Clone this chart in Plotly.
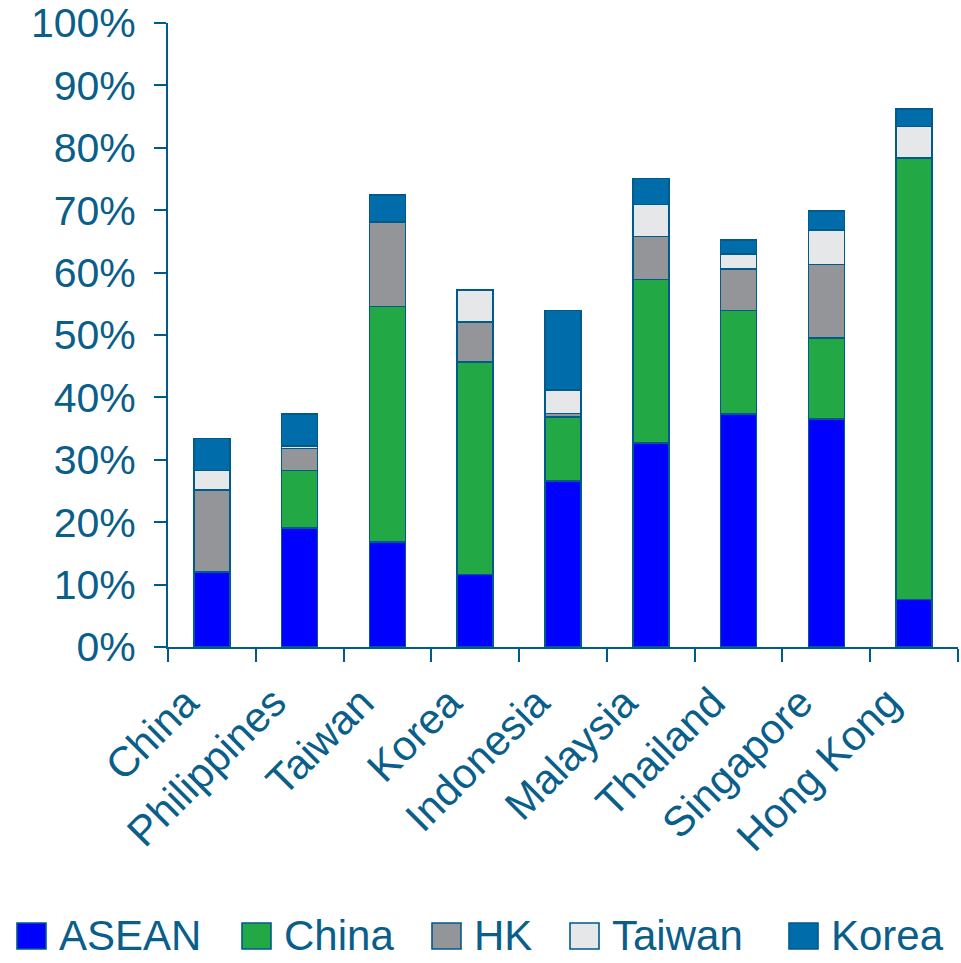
import plotly.graph_objects as go

# Share of exports by destination (percent of total)
countries = ["China", "Philippines", "Taiwan", "Korea", "Indonesia",
             "Malaysia", "Thailand", "Singapore", "Hong Kong"]
asean = [12.0, 19.1, 16.8, 11.6, 26.6, 32.7, 37.3, 36.5, 7.6]
china = [0.0, 9.2, 37.8, 34.1, 10.3, 26.2, 16.6, 13.0, 70.8]
hk = [13.2, 3.5, 13.5, 6.4, 0.5, 6.9, 6.7, 11.8, 0.0]
taiwan = [3.1, 0.4, 0.0, 5.1, 3.8, 5.1, 2.4, 5.5, 5.0]
korea = [5.1, 5.1, 4.3, 0.0, 12.7, 4.2, 2.2, 3.1, 2.8]

series_names = ["ASEAN", "China", "HK", "Taiwan", "Korea"]
series_values = [asean, china, hk, taiwan, korea]
series_colors = ["#0000FF", "#22A946", "#939598", "#E6E7E8", "#006DAA"]

y_ticks = list(range(0, 101, 10))
y_labels = [f"{v}%" for v in y_ticks]

INK = "#0A5E8A"
EDGE = "#005A8C"
FONT = "Liberation Sans, Arial, sans-serif"

W, H = 961, 963
ML, MR, MT, MB = 168, 3, 23, 316
PW, PH = W - ML - MR, H - MT - MB


def px_x(p):
    return (p - ML) / PW


def px_y(p):
    return (H - MB - p) / PH


fig = go.Figure()

for name, vals, col in zip(series_names, series_values, series_colors):
    fig.add_trace(go.Bar(
        x=countries, y=vals, name=name, showlegend=False,
        marker=dict(color=col, line=dict(color=EDGE, width=1.6)),
    ))

# Legend row below the chart: square swatch followed by its label
swatch_left = [17, 242, 432, 570, 789]
swatch_w, swatch_top, swatch_bot = 29, 923, 949
shapes, annotations = [], []
for name, col, sx in zip(series_names, series_colors, swatch_left):
    shapes.append(dict(
        type="rect", xref="paper", yref="paper",
        x0=px_x(sx), x1=px_x(sx + swatch_w),
        y0=px_y(swatch_bot), y1=px_y(swatch_top),
        fillcolor=col, line=dict(color=EDGE, width=1.6),
    ))
    annotations.append(dict(
        text=name, xref="paper", yref="paper",
        x=px_x(sx + swatch_w + 11), y=px_y(935),
        xanchor="left", yanchor="middle", showarrow=False,
        font=dict(size=42, color=INK, family=FONT),
    ))

fig.update_layout(
    barmode="stack",
    bargap=0.59,
    width=W, height=H,
    margin=dict(l=ML, r=MR, t=MT, b=MB),
    plot_bgcolor="white", paper_bgcolor="white",
    font=dict(family=FONT, color=INK, size=40),
    showlegend=False,
    shapes=shapes,
    annotations=annotations,
)

fig.update_xaxes(
    showline=True, linecolor=EDGE, linewidth=2,
    ticks="outside", tickson="boundaries", ticklen=13, tickwidth=2, tickcolor=EDGE,
    tickangle=-45, tickfont=dict(size=42, color=INK),
    ticklabelstandoff=12, ticklabelshift=-26,
    showgrid=False, automargin=False,
)
fig.update_yaxes(
    range=[0, 100], tickvals=y_ticks, ticktext=y_labels,
    showline=True, linecolor=EDGE, linewidth=2,
    ticks="outside", ticklen=12, tickwidth=2, tickcolor=EDGE,
    tickfont=dict(size=41, color=INK), ticklabelstandoff=10,
    showgrid=False, zeroline=False, automargin=False,
)

fig.write_html("out.html")
